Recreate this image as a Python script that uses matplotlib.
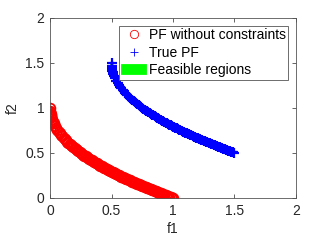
import matplotlib.pyplot as plt

plt.rcParams['font.family'] = ['Liberation Sans', 'DejaVu Sans']
plt.rcParams['font.size'] = 10

# PF without constraints (red circles)
pf_f1 = [0.0, 0.001, 0.002, 0.004, 0.006, 0.008, 0.01, 0.015, 0.02, 0.025,
         0.03, 0.04, 0.05, 0.06, 0.07, 0.08, 0.09,
         0.10, 0.11, 0.12, 0.13, 0.14, 0.15, 0.16, 0.17, 0.18, 0.19,
         0.20, 0.21, 0.22, 0.23, 0.24, 0.25, 0.26, 0.27, 0.28, 0.29,
         0.30, 0.31, 0.32, 0.33, 0.34, 0.35, 0.36, 0.37, 0.38, 0.39,
         0.40, 0.41, 0.42, 0.43, 0.44, 0.45, 0.46, 0.47, 0.48, 0.49,
         0.50, 0.51, 0.52, 0.53, 0.54, 0.55, 0.56, 0.57, 0.58, 0.59,
         0.60, 0.61, 0.62, 0.63, 0.64, 0.65, 0.66, 0.67, 0.68, 0.69,
         0.70, 0.71, 0.72, 0.73, 0.74, 0.75, 0.76, 0.77, 0.78, 0.79,
         0.80, 0.81, 0.82, 0.83, 0.84, 0.85, 0.86, 0.87, 0.88, 0.89,
         0.90, 0.91, 0.92, 0.93, 0.94, 0.95, 0.96, 0.97, 0.98, 0.99, 1.00]
pf_f2 = [1.000, 0.968, 0.955, 0.937, 0.923, 0.911, 0.900, 0.878, 0.859, 0.842,
         0.827, 0.800, 0.776, 0.755, 0.735, 0.717, 0.700,
         0.684, 0.668, 0.654, 0.639, 0.626, 0.613, 0.600, 0.588, 0.576, 0.564,
         0.553, 0.542, 0.531, 0.520, 0.510, 0.500, 0.490, 0.480, 0.471, 0.462,
         0.452, 0.443, 0.434, 0.426, 0.417, 0.408, 0.400, 0.392, 0.384, 0.376,
         0.368, 0.360, 0.352, 0.344, 0.337, 0.329, 0.322, 0.314, 0.307, 0.300,
         0.293, 0.286, 0.279, 0.272, 0.265, 0.258, 0.252, 0.245, 0.238, 0.232,
         0.225, 0.219, 0.213, 0.206, 0.200, 0.194, 0.188, 0.181, 0.175, 0.169,
         0.163, 0.157, 0.151, 0.146, 0.140, 0.134, 0.128, 0.122, 0.117, 0.111,
         0.106, 0.100, 0.094, 0.089, 0.083, 0.078, 0.073, 0.067, 0.062, 0.057,
         0.051, 0.046, 0.041, 0.036, 0.030, 0.025, 0.020, 0.015, 0.010, 0.005, 0.000]

# True PF (blue plus markers), feasible region runs along it
true_f1 = [0.500, 0.501, 0.502, 0.504, 0.506, 0.508, 0.51, 0.515, 0.52, 0.525,
           0.53, 0.54, 0.55, 0.56, 0.57, 0.58, 0.59,
           0.60, 0.61, 0.62, 0.63, 0.64, 0.65, 0.66, 0.67, 0.68, 0.69,
           0.70, 0.71, 0.72, 0.73, 0.74, 0.75, 0.76, 0.77, 0.78, 0.79,
           0.80, 0.81, 0.82, 0.83, 0.84, 0.85, 0.86, 0.87, 0.88, 0.89,
           0.90, 0.91, 0.92, 0.93, 0.94, 0.95, 0.96, 0.97, 0.98, 0.99,
           1.00, 1.01, 1.02, 1.03, 1.04, 1.05, 1.06, 1.07, 1.08, 1.09,
           1.10, 1.11, 1.12, 1.13, 1.14, 1.15, 1.16, 1.17, 1.18, 1.19,
           1.20, 1.21, 1.22, 1.23, 1.24, 1.25, 1.26, 1.27, 1.28, 1.29,
           1.30, 1.31, 1.32, 1.33, 1.34, 1.35, 1.36, 1.37, 1.38, 1.39,
           1.40, 1.41, 1.42, 1.43, 1.44, 1.45, 1.46, 1.47, 1.48, 1.49, 1.50]
true_f2 = [1.500, 1.468, 1.455, 1.437, 1.423, 1.411, 1.400, 1.378, 1.359, 1.342,
           1.327, 1.300, 1.276, 1.255, 1.235, 1.217, 1.200,
           1.184, 1.168, 1.154, 1.139, 1.126, 1.113, 1.100, 1.088, 1.076, 1.064,
           1.053, 1.042, 1.031, 1.020, 1.010, 1.000, 0.990, 0.980, 0.971, 0.962,
           0.952, 0.943, 0.934, 0.926, 0.917, 0.908, 0.900, 0.892, 0.884, 0.876,
           0.868, 0.860, 0.852, 0.844, 0.837, 0.829, 0.822, 0.814, 0.807, 0.800,
           0.793, 0.786, 0.779, 0.772, 0.765, 0.758, 0.752, 0.745, 0.738, 0.732,
           0.725, 0.719, 0.713, 0.706, 0.700, 0.694, 0.688, 0.681, 0.675, 0.669,
           0.663, 0.657, 0.651, 0.646, 0.640, 0.634, 0.628, 0.622, 0.617, 0.611,
           0.606, 0.600, 0.594, 0.589, 0.583, 0.578, 0.573, 0.567, 0.562, 0.557,
           0.551, 0.546, 0.541, 0.536, 0.530, 0.525, 0.520, 0.515, 0.510, 0.505, 0.500]

ticks = [0, 0.5, 1, 1.5, 2]
tick_labels = ['0', '0.5', '1', '1.5', '2']

fig = plt.figure(figsize=(3.27, 2.45), dpi=100)
ax = fig.add_axes([0.153, 0.192, 0.752, 0.735])

ax.plot(pf_f1, pf_f2, 'o', color='red', mfc='none', ms=7, mew=1.3,
        label='PF without constraints')
ax.plot(true_f1, true_f2, '+', color='blue', ms=7.5, mew=1.6, label='True PF')
ax.fill(true_f1 + true_f1[::-1], true_f2 + true_f2[::-1], facecolor='#00ff00',
        edgecolor='#00ff00', lw=1.3, label='Feasible regions')

ax.set_xlim(0, 2)
ax.set_ylim(0, 2)
ax.set_xticks(ticks)
ax.set_xticklabels(tick_labels)
ax.set_yticks(ticks)
ax.set_yticklabels(tick_labels)
ax.tick_params(direction='in', length=3, width=0.5, top=True, right=True,
               colors='#262626', labelsize=10, pad=4)
for sp in ax.spines.values():
    sp.set_linewidth(0.6)
    sp.set_color('#555555')
ax.set_xlabel('f1', fontsize=10, color='#262626', labelpad=3)
ax.set_ylabel('f2', fontsize=10, color='#262626', labelpad=4)

leg = ax.legend(loc='upper right', fontsize=10, fancybox=False, framealpha=1,
                edgecolor='#555555', borderaxespad=0.55, borderpad=0.2,
                labelspacing=0.25, handlelength=1.7, handletextpad=0.2)
leg.get_frame().set_linewidth(0.6)
# thin markers in the legend, like the original
for h in leg.legend_handles[:2]:
    h.set_markeredgewidth(0.6)
    h.set_markersize(6)

fig.savefig('out.png', dpi=100)
